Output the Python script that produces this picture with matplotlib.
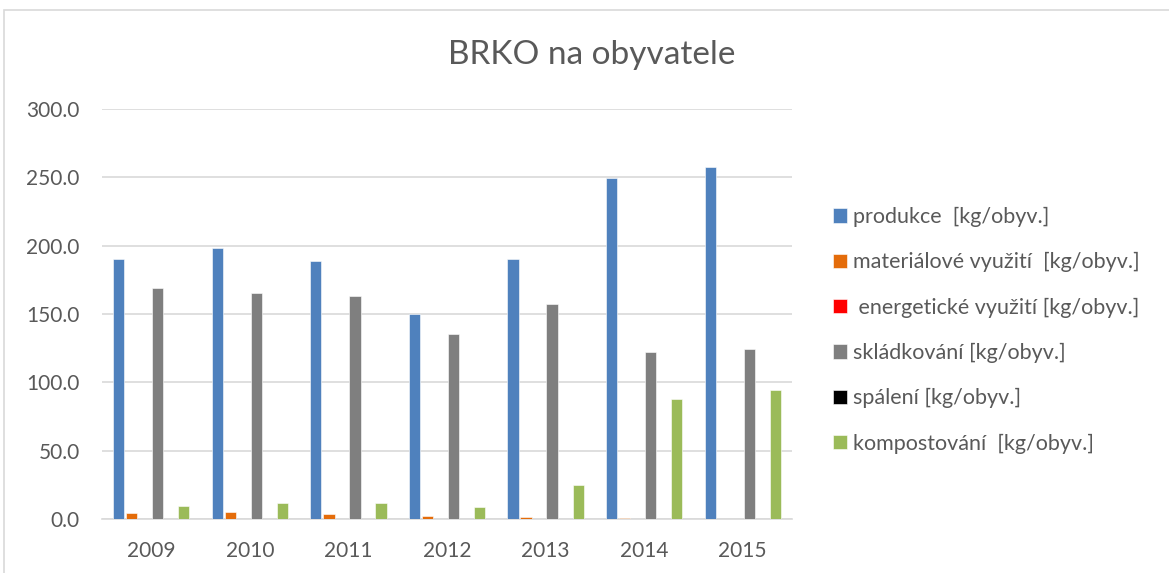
import matplotlib.pyplot as plt
from matplotlib.patches import Rectangle
import numpy as np

plt.rcParams['font.family'] = ['Lato', 'DejaVu Sans']

years = ["2009", "2010", "2011", "2012", "2013", "2014", "2015"]
produkce = [190.2, 198.3, 188.8, 150.0, 190.2, 249.5, 257.5]
materialove = [4.4, 5.3, 3.4, 2.0, 1.5, 0.7, 0.0]
energeticke = [0, 0, 0, 0, 0, 0, 0]
skladkovani = [169.0, 165.4, 163.2, 135.4, 157.3, 122.2, 124.4]
spaleni = [0, 0, 0, 0, 0, 0, 0]
kompostovani = [9.5, 11.7, 11.7, 9.0, 24.7, 87.8, 94.4]

series = [
    ("produkce  [kg/obyv.]", produkce, "#4f81bd"),
    ("materiálové využití  [kg/obyv.]", materialove, "#e46c0a"),
    (" energetické využití [kg/obyv.]", energeticke, "#ff0000"),
    ("skládkování [kg/obyv.]", skladkovani, "#7f7f7f"),
    ("spálení [kg/obyv.]", spaleni, "#000000"),
    ("kompostování  [kg/obyv.]", kompostovani, "#9bbb59"),
]

W, H = 1169, 573
fig = plt.figure(figsize=(W / 100, H / 100), dpi=100)
ax = fig.add_axes([102 / W, 1 - 519 / H, (792 - 102) / W, (519 - 109) / H])

# chart frame (clipped by the image edges)
fig.patches.append(Rectangle((4 / W, -0.2), 1.2, 1.2 - 10 / H, transform=fig.transFigure,
                             fill=False, edgecolor="#d9d9d9", linewidth=1.2))

x = np.arange(len(years))
slot = 0.132
for i, (label, vals, color) in enumerate(series):
    ax.bar(x + (i - 2.5) * slot, vals, width=slot * 0.86, color=color,
           edgecolor="white", linewidth=0.4, label=label, zorder=3)

ax.set_xlim(-0.5, len(years) - 0.5)
ax.set_ylim(0, 300)
ax.set_yticks(np.arange(0, 301, 50))
ax.set_yticklabels([f"{v:.1f}" for v in np.arange(0, 301, 50)])
ax.set_xticks(x)
ax.set_xticklabels(years)
ax.tick_params(axis="y", length=0, pad=16, labelsize=15, labelcolor="#595959")
ax.tick_params(axis="x", length=0, pad=16, labelsize=15, labelcolor="#595959")
ax.grid(axis="y", color="#d9d9d9", linewidth=1.2, zorder=0)
ax.set_axisbelow(True)
for side in ["top", "right", "left"]:
    ax.spines[side].set_visible(False)
ax.spines["bottom"].set_color("#d9d9d9")
ax.spines["bottom"].set_linewidth(1.2)

fig.text(592 / W, 1 - 55 / H, "BRKO na obyvatele", ha="center", va="center",
         fontsize=24, color="#595959")

fig.legend(loc="upper left", bbox_to_anchor=(833 / W, 1 - 207 / H), frameon=False,
           fontsize=15.5, labelcolor="#595959", handlelength=0.65, handleheight=0.65,
           handletextpad=0.3, labelspacing=1.17, borderaxespad=0, borderpad=0)

fig.savefig("out.png", dpi=100)
